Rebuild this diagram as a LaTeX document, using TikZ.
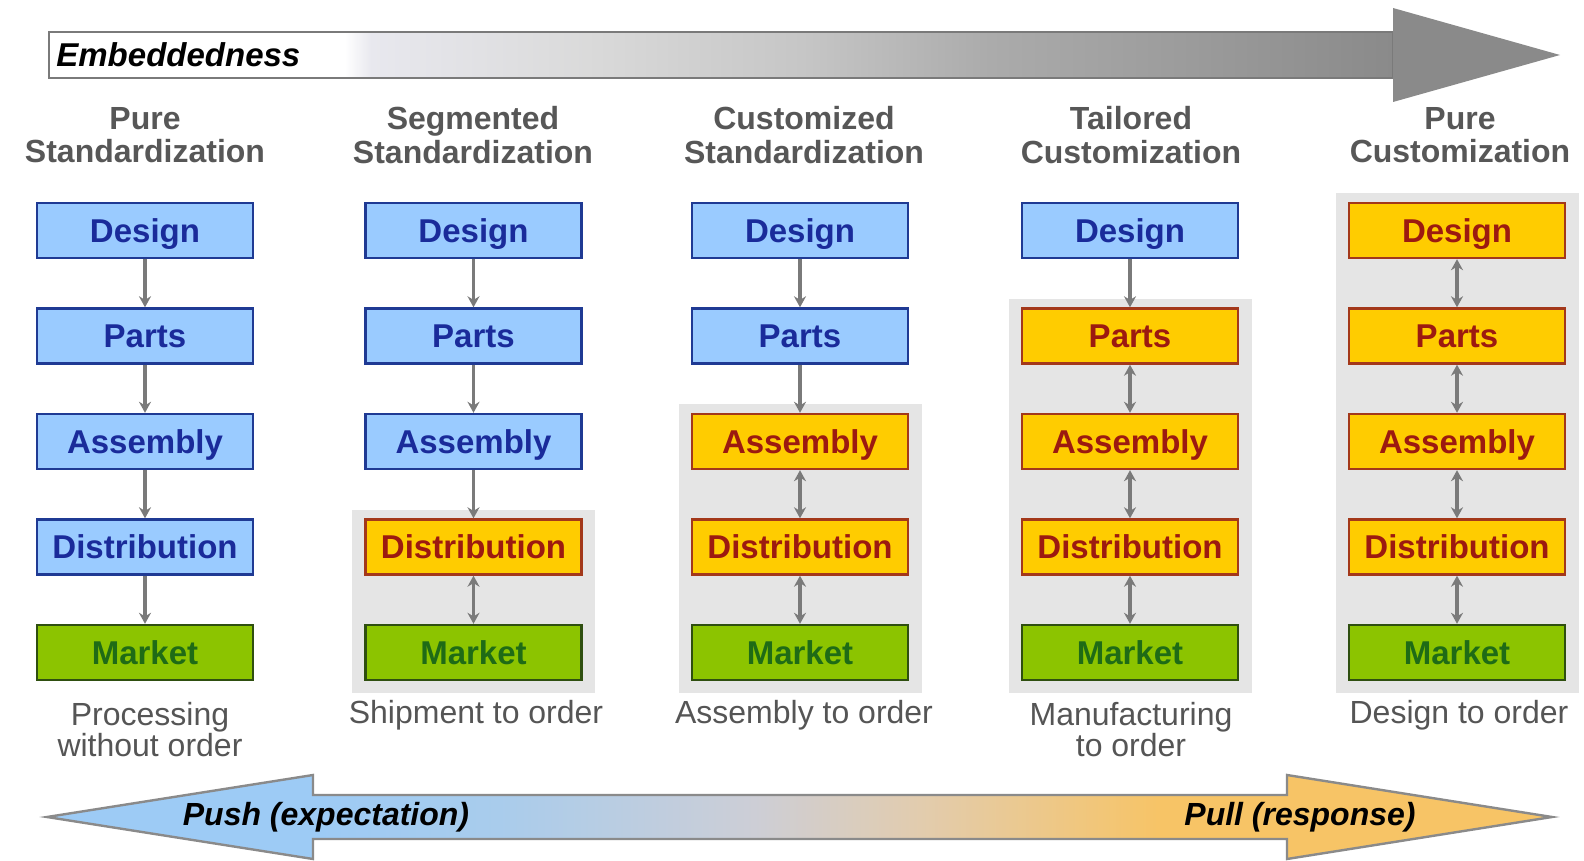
\documentclass[tikz,border=0pt]{standalone}
\usepackage{fontspec}
\setmainfont{Liberation Sans}
\usetikzlibrary{arrows.meta,calc,positioning}
\definecolor{stdfill}{HTML}{9ACBFF}
\definecolor{stdline}{HTML}{1F3A94}
\definecolor{stdtext}{HTML}{1A2B9A}
\definecolor{ordfill}{HTML}{FFCC00}
\definecolor{ordline}{HTML}{A3381A}
\definecolor{ordtext}{HTML}{9C1A10}
\definecolor{mktfill}{HTML}{8CC400}
\definecolor{mktline}{HTML}{2F4F10}
\definecolor{mkttext}{HTML}{1F6B16}
\definecolor{panelgray}{HTML}{E5E5E5}
\definecolor{linkgray}{HTML}{7A7A7A}
\definecolor{headgray}{HTML}{575757}
\definecolor{taggray}{HTML}{555555}
\definecolor{embline}{HTML}{7A7A7A}
\definecolor{emba}{HTML}{E8E8EE}
\definecolor{embb}{HTML}{DADADA}
\definecolor{embc}{HTML}{C6C6C6}
\definecolor{embd}{HTML}{ABABAB}
\definecolor{embe}{HTML}{9A9A9A}
\definecolor{embf}{HTML}{8A8A8A}
\definecolor{pushblue}{HTML}{9DCBF5}
\definecolor{pushmid}{HTML}{A9CCEC}
\definecolor{midgray}{HTML}{CDCED6}
\definecolor{pullbeige}{HTML}{E2CCAE}
\definecolor{pullorange}{HTML}{F7C466}
\definecolor{pushline}{HTML}{8A8A8A}
\pgfdeclarehorizontalshading{embedshade}{100bp}{color(0bp)=(white); color(36bp)=(white);
  color(37bp)=(emba); color(45bp)=(embb); color(53bp)=(embc); color(60bp)=(embd);
  color(68bp)=(embe); color(75bp)=(embf); color(100bp)=(embf)}
\pgfdeclarehorizontalshading{pushpull}{100bp}{color(0bp)=(pushblue); color(34bp)=(pushblue);
  color(40bp)=(pushmid); color(48.5bp)=(midgray); color(54bp)=(pullbeige);
  color(62bp)=(pullorange); color(100bp)=(pullorange)}
\tikzset{
  box/.style={draw,line width=1.2pt,minimum width=108pt,minimum height=27.5pt,inner sep=0pt,
    text height=11.8pt,text depth=0pt,font=\fontsize{16.5}{18}\selectfont\bfseries},
  stdbox/.style={box,fill=stdfill,draw=stdline,text=stdtext},
  ordbox/.style={box,fill=ordfill,draw=ordline,text=ordtext},
  mktbox/.style={box,fill=mktfill,draw=mktline,text=mkttext},
  panel/.style={fill=panelgray},
  link/.style={draw=linkgray,line width=1.7pt,-{Stealth[length=5.5pt,width=6pt]}},
  dlink/.style={link,{Stealth[length=5.5pt,width=6pt]}-{Stealth[length=5.5pt,width=6pt]}},
  colhead/.style={align=center,text=headgray,inner sep=0pt,
    font=\fontsize{16}{16.75}\selectfont\bfseries},
  tag/.style={align=center,text=taggray,inner sep=0pt,font=\fontsize{16}{14.5}\selectfont},
  bigtag/.style={inner sep=0pt,font=\fontsize{16}{18}\selectfont\bfseries\itshape},
}
\begin{document}
\begin{tikzpicture}[x=0.5pt,y=-0.5pt]
    \useasboundingbox (0,0) rectangle (1584,861);
    % ------------- top: embeddedness arrow -------------
    \shadedraw[shading=embedshade,draw=embline,line width=1.2pt] (49,32) rectangle (1393,78);
    \fill[embf] (1393,8) -- (1560,55) -- (1393,102) -- cycle;
    \node[bigtag,anchor=west,font=\fontsize{16.5}{18}\selectfont\bfseries\itshape] (embtxt) at (56,55) {Embeddedness};
    % ------------- column heads -------------
    \node[colhead] (h1) at (145,135) {Pure\\Standardization};
    \node[colhead] (h2) at (473,135) {Segmented\\Standardization};
    \node[colhead] (h3) at (804,135) {Customized\\Standardization};
    \node[colhead] (h4) at (1131,135) {Tailored\\Customization};
    \node[colhead] (h5) at (1460,135) {Pure\\Customization};
    % ------------- columns: k = boxes made before the order -------------
    \foreach \c/\cx/\k in {1/145/4,2/473.5/3,3/800/2,4/1130/1,5/1457/0}{
      \ifnum\k<4
        \fill[panel] (\cx-121.5,{193+105.5*\k}) rectangle (\cx+121.5,693);
      \fi
      \foreach \r/\txt in {1/Design,2/Parts,3/Assembly,4/Distribution}{
        \ifnum\r>\k \def\sty{ordbox}\else\def\sty{stdbox}\fi
        \node[\sty] (b\c\r) at (\cx,{230.5+105.5*(\r-1)}) {\txt};
      }
      \node[mktbox] (b\c5) at (\cx,652.5) {Market};
      \foreach \r in {1,...,4}{
        \pgfmathtruncatemacro\s{\r+1}
        \ifnum\r>\k
          \draw[dlink] (b\c\r) -- (b\c\s);
        \else
          \draw[link] (b\c\r) -- (b\c\s);
        \fi
      }
    }
    % ------------- order types -------------
    \node[tag] (t1) at (150,729.5) {Processing\\without order};
    \node[tag] (t2) at (476,715) {Shipment to order};
    \node[tag] (t3) at (804,715) {Assembly to order};
    \node[tag] (t4) at (1131,729.5) {Manufacturing\\to order};
    \node[tag] (t5) at (1459,715) {Design to order};
    % ------------- bottom: push / pull arrow -------------
    \shadedraw[shading=pushpull,draw=pushline,line width=1.2pt]
      (47,817) -- (313,775) -- (313,795) -- (1287,795) -- (1287,775) -- (1552,817)
      -- (1287,859) -- (1287,839) -- (313,839) -- (313,859) -- cycle;
    \node[bigtag] (push) at (326,817) {Push (expectation)};
    \node[bigtag] (pull) at (1300,817) {Pull (response)};
  \end{tikzpicture}
\end{document}
